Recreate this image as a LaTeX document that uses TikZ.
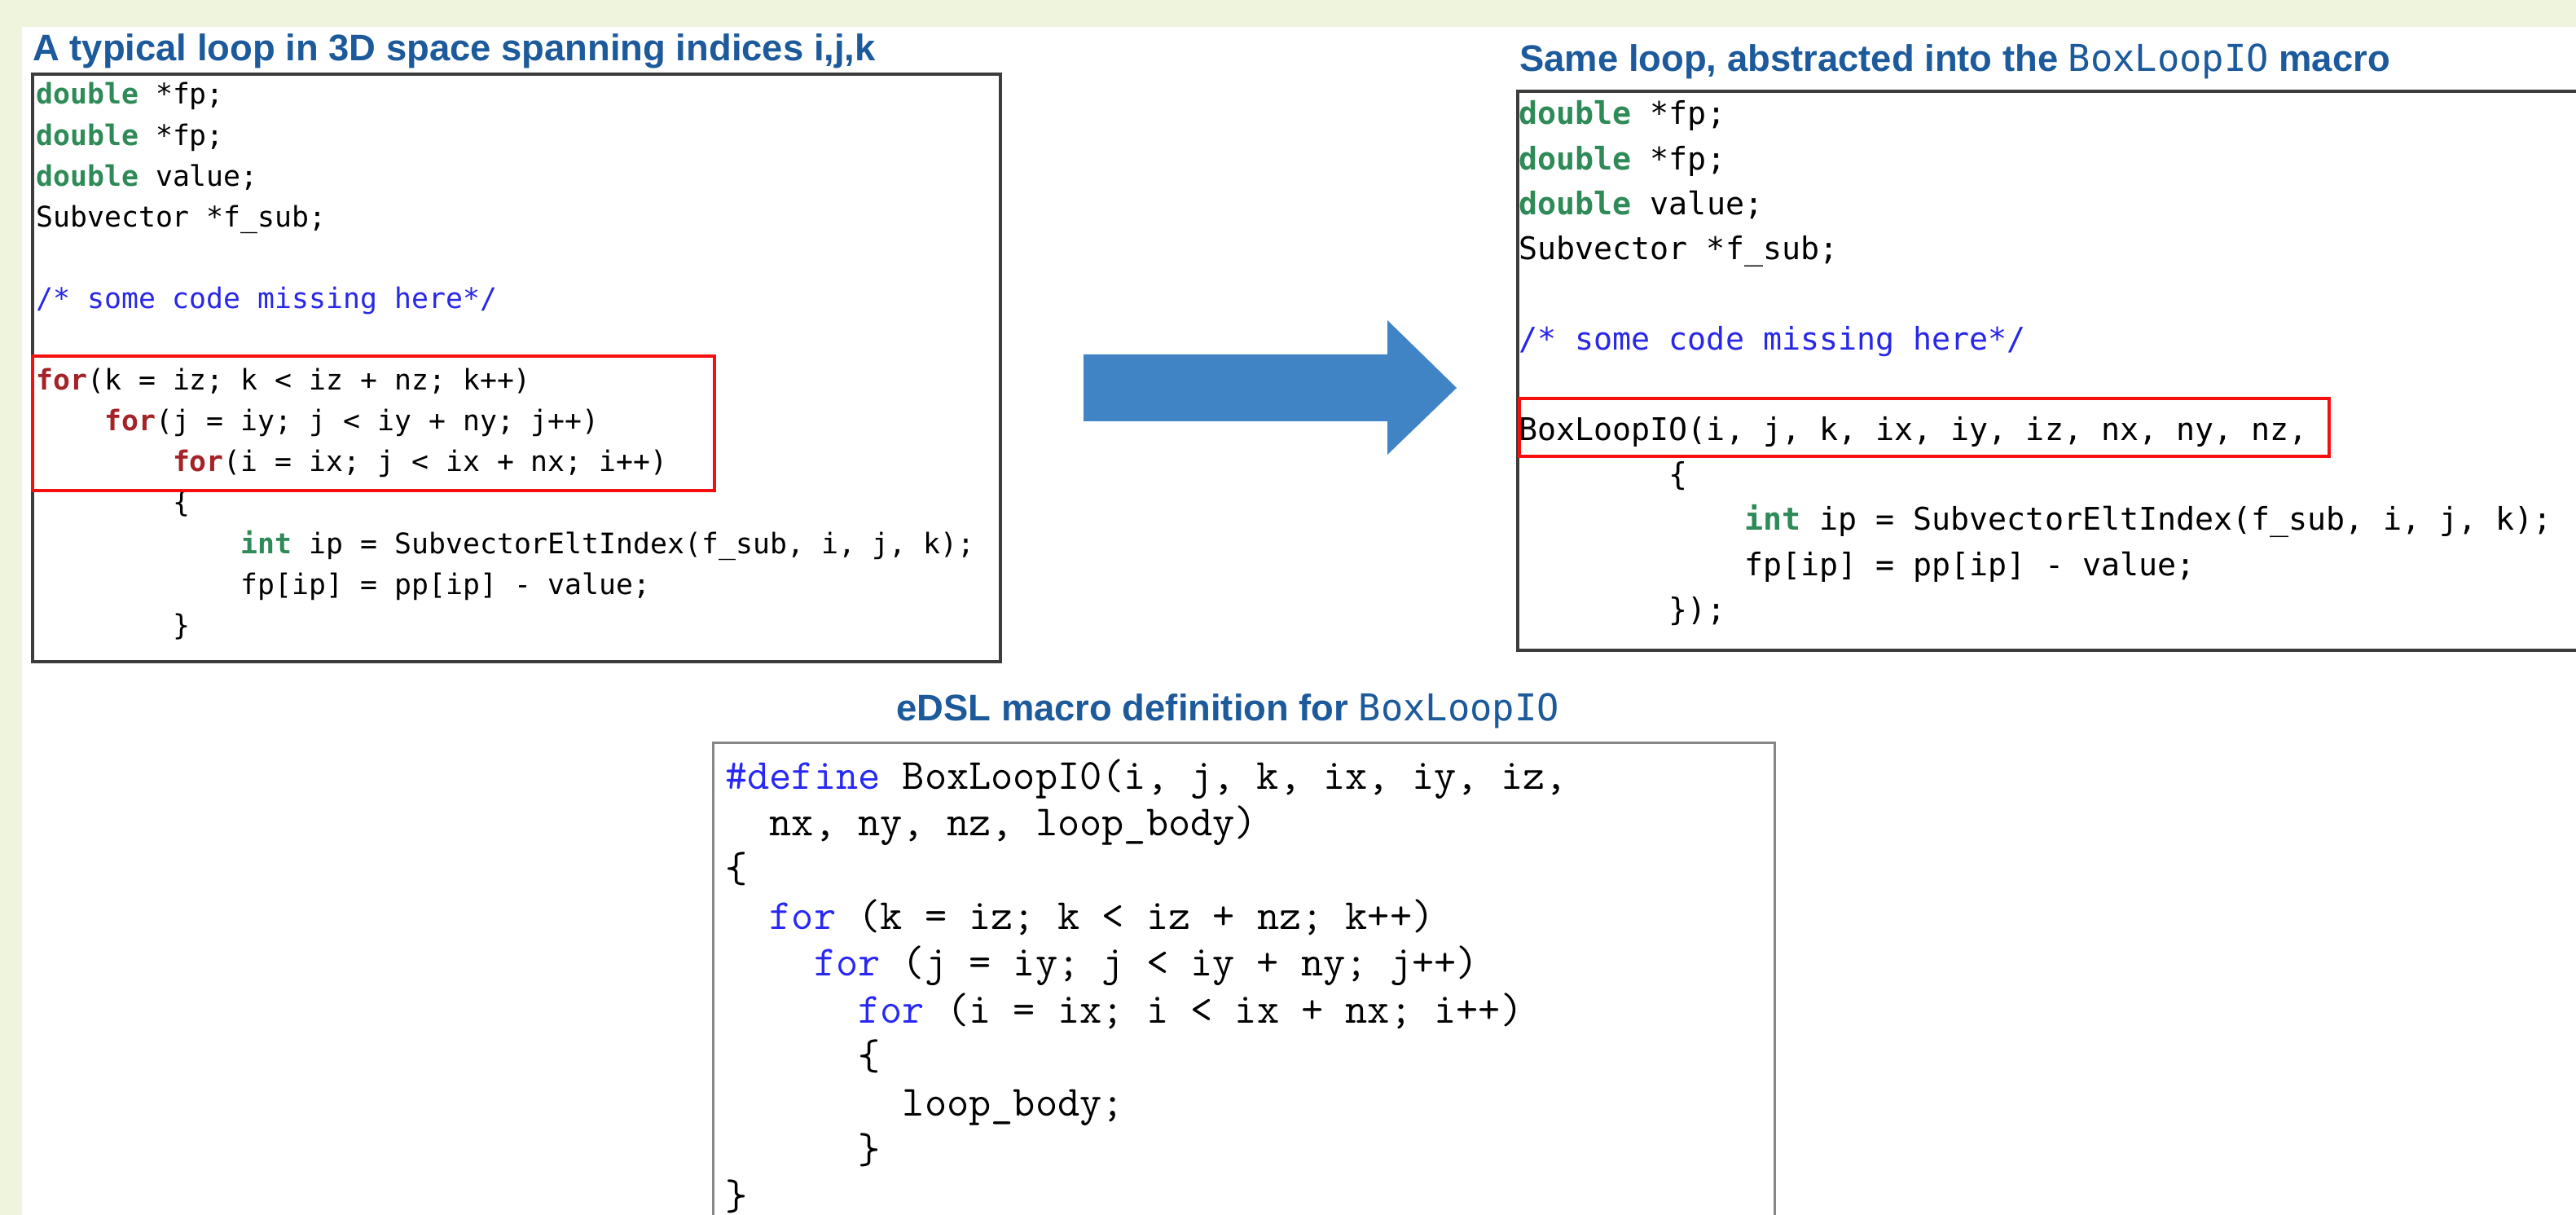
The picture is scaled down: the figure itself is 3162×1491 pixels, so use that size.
\documentclass[tikz,border=0pt]{standalone}
\usepackage{fontspec}
\usepackage{xcolor}
\newfontfamily\dvmono{DejaVu Sans Mono}
\newfontfamily\lsans{Liberation Sans}

\definecolor{pagegreen}{RGB}{239,244,221}
\definecolor{titleblue}{RGB}{28,90,155}
\definecolor{kwgreen}{RGB}{46,139,87}
\definecolor{forred}{RGB}{165,35,40}
\definecolor{cmtblue}{RGB}{40,40,230}
\definecolor{defblue}{RGB}{40,40,245}
\definecolor{arrowblue}{RGB}{64,132,198}
\definecolor{hlred}{RGB}{245,15,15}
\definecolor{frame}{RGB}{60,60,60}
\definecolor{lightframe}{RGB}{135,135,135}

% syntax colouring helpers
\newcommand\kwd[1]{{\bfseries\color{kwgreen}#1}}
\newcommand\kfor[1]{{\bfseries\color{forred}#1}}
\newcommand\cmt[1]{{\color{cmtblue}#1}}
\newcommand\dkw[1]{{\color{defblue}#1}}
% indentation by a number of monospace columns
\newcommand\ind[1]{\hspace*{#1\fontcharwd\font`x}}

\tikzset{
  ttl/.style={anchor=base west, inner sep=0pt, text=titleblue,
    font=\lsans\bfseries\fontsize{22.7pt}{26pt}\selectfont},
  lcode/.style={anchor=base west, inner sep=0pt, text=black,
    font=\dvmono\fontsize{17.4pt}{20pt}\selectfont},
  rcode/.style={anchor=base west, inner sep=0pt, text=black,
    font=\dvmono\fontsize{19.15pt}{22pt}\selectfont},
  dcode/.style={anchor=base west, inner sep=0pt, text=black,
    font=\ttfamily\fontsize{26.4pt}{29pt}\selectfont},
  codeframe/.style={draw=frame, line width=2pt},
  lightcodeframe/.style={draw=lightframe, line width=1.5pt},
  highlight/.style={draw=hlred, line width=2.2pt},
}

\begin{document}
\begin{tikzpicture}[x=0.5pt, y=-0.5pt]
\useasboundingbox (0,0) rectangle (3162,1491);

% page background and white panel
\fill[pagegreen] (0,0) rectangle (3162,1491);
\fill[white] (27,33) rectangle (3162,1491);

% ---------- left panel: plain triple loop ----------
\node[ttl] (ltitle) at (40,75) {A typical loop in 3D space spanning indices i,j,k};
\draw[codeframe] (40,91) rectangle (1228,812);

\node[lcode] (l1)  at (44,128.0) {\kwd{double} *fp;};
\node[lcode] (l2)  at (44,178.1) {\kwd{double} *fp;};
\node[lcode] (l3)  at (44,228.2) {\kwd{double} value;};
\node[lcode] (l4)  at (44,278.3) {Subvector *f\_sub;};
\node[lcode] (l6)  at (44,378.5) {\cmt{/* some code missing here*/}};
\node[lcode] (l8)  at (44,478.7) {\kfor{for}(k = iz; k < iz + nz; k++)};
\node[lcode] (l9)  at (44,528.8) {\ind{4}\kfor{for}(j = iy; j < iy + ny; j++)};
\node[lcode] (l10) at (44,578.9) {\ind{8}\kfor{for}(i = ix; j < ix + nx; i++)};
\node[lcode] (l11) at (44,629.0) {\ind{8}\{};
\node[lcode] (l12) at (44,679.1) {\ind{12}\kwd{int} ip = SubvectorEltIndex(f\_sub, i, j, k);};
\node[lcode] (l13) at (44,729.2) {\ind{12}fp[ip] = pp[ip] - value;};
\node[lcode] (l14) at (44,779.3) {\ind{8}\}};

\draw[highlight] (40,437) rectangle (877,602);

% ---------- block arrow ----------
\fill[arrowblue] (1330,435) -- (1703,435) -- (1703,393) -- (1788,476)
  -- (1703,558) -- (1703,517) -- (1330,517) -- cycle;

% ---------- right panel: loop expressed with the macro ----------
\node[ttl] (rtitle) at (1865,88) {Same loop, abstracted into the {\mdseries\dvmono BoxLoopIO} macro};
\draw[codeframe] (3170,112) -- (1863,112) -- (1863,798) -- (3170,798);

\node[rcode] (r1)  at (1864,153.0) {\kwd{double} *fp;};
\node[rcode] (r2)  at (1864,208.3) {\kwd{double} *fp;};
\node[rcode] (r3)  at (1864,263.6) {\kwd{double} value;};
\node[rcode] (r4)  at (1864,318.9) {Subvector *f\_sub;};
\node[rcode] (r6)  at (1864,429.5) {\cmt{/* some code missing here*/}};
\node[rcode] (r8)  at (1864,540.1) {BoxLoopIO(i, j, k, ix, iy, iz, nx, ny, nz,};
\node[rcode] (r9)  at (1864,595.4) {\ind{8}\{};
\node[rcode] (r10) at (1864,650.7) {\ind{12}\kwd{int} ip = SubvectorEltIndex(f\_sub, i, j, k);};
\node[rcode] (r11) at (1864,706.0) {\ind{12}fp[ip] = pp[ip] - value;};
\node[rcode] (r12) at (1864,761.3) {\ind{8}\});};

\draw[highlight] (1865,489) rectangle (2859,560);

% ---------- bottom panel: macro definition ----------
\node[ttl] (dtitle) at (1100,884) {eDSL macro definition for {\mdseries\dvmono BoxLoopIO}};
\draw[lightcodeframe] (875,1510) -- (875,911) -- (2178,911) -- (2178,1510);

\node[dcode] (d1)  at (890,968.0)  {\dkw{\#define} BoxLoopI0(i, j, k, ix, iy, iz,};
\node[dcode] (d2)  at (890,1025.4) {\ind{2}nx, ny, nz, loop\_body)};
\node[dcode] (d3)  at (890,1082.8) {\{};
\node[dcode] (d4)  at (890,1140.2) {\ind{2}\dkw{for} (k = iz; k < iz + nz; k++)};
\node[dcode] (d5)  at (890,1197.6) {\ind{4}\dkw{for} (j = iy; j < iy + ny; j++)};
\node[dcode] (d6)  at (890,1255.0) {\ind{6}\dkw{for} (i = ix; i < ix + nx; i++)};
\node[dcode] (d7)  at (890,1312.4) {\ind{6}\{};
\node[dcode] (d8)  at (890,1369.8) {\ind{8}loop\_body;};
\node[dcode] (d9)  at (890,1427.2) {\ind{6}\}};
\node[dcode] (d10) at (890,1484.6) {\}};
\end{tikzpicture}
\end{document}
